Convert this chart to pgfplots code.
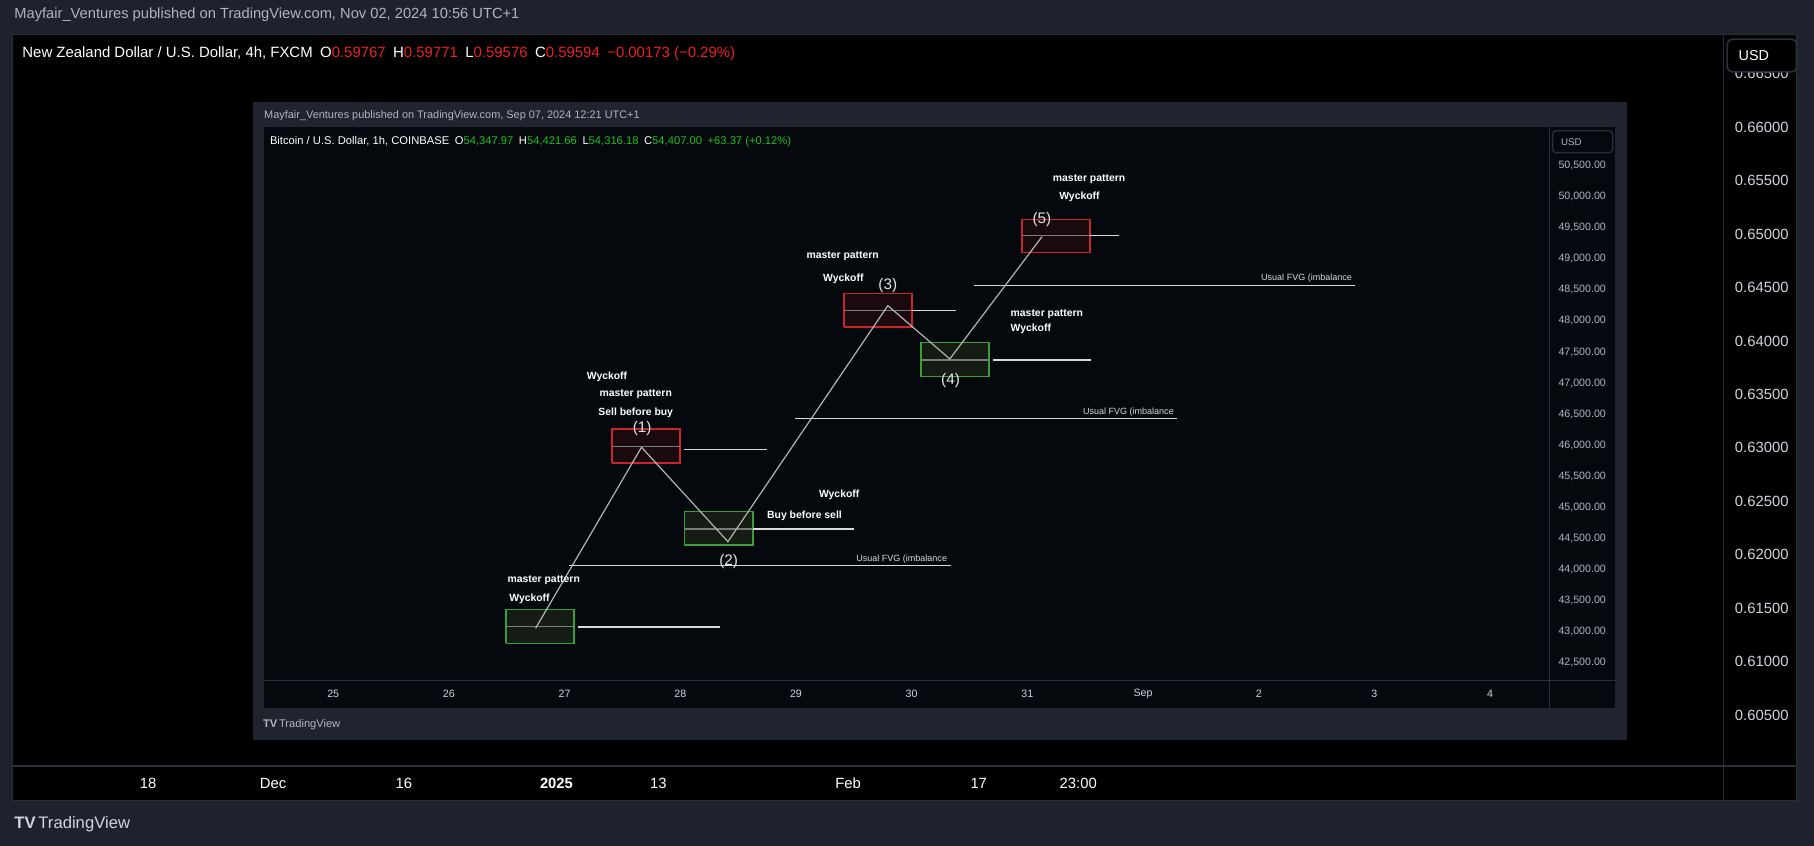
\documentclass[border=0pt]{standalone}
\usepackage{pgfplots}
\pgfplotsset{compat=1.18}
\usepackage{fontspec}
\setmainfont{Liberation Sans}
\definecolor{pagebg}{HTML}{1E222D}
\definecolor{framebg}{HTML}{20242F}
\definecolor{sep}{HTML}{2A2E39}
\definecolor{innerbg}{HTML}{05080C}
\definecolor{txt}{HTML}{D1D4DC}
\definecolor{txtgrey}{HTML}{B2B5BE}
\definecolor{tvred}{HTML}{EC2020}
\definecolor{tvgreen}{HTML}{1EC01E}
\definecolor{boxred}{HTML}{C8262E}
\definecolor{boxredfill}{HTML}{1A0A0E}
\definecolor{boxgreen}{HTML}{3A9E3A}
\definecolor{boxgreenfill}{HTML}{141C14}
\definecolor{zig}{HTML}{B8B8B8}
\definecolor{hline}{HTML}{DADADA}
\definecolor{midl}{HTML}{7C7C7C}
\newcommand\fs[1]{\fontsize{#1}{#1}\selectfont}
\tikzset{
  lab/.style={text=white,font=\fs{4.5}\bfseries,inner sep=0},
  num/.style={text=white!90!black,font=\fs{6.6},inner sep=0},
  fvg/.style={text=white!85!black,font=\fs{3.9},inner sep=0,anchor=south east},
}
\begin{document}
\begin{tikzpicture}[x=0.5pt,y=0.5pt]
% page background
\fill[pagebg] (0,0) rectangle (1568,731);
% outer panel
\fill[black] (11,39) rectangle (1553,701);
\draw[sep,line width=0.6pt] (11,39) rectangle (1553,701);
\draw[sep,line width=0.6pt] (1490,39) -- (1490,701);
\draw[sep,line width=0.6pt] (11,69) -- (1553,69);
% top header
\node[anchor=west,inner sep=0,text=txtgrey,font=\fs{6.35}] at (12,718) {Mayfair\_Ventures published on TradingView.com, Nov 02, 2024 10:56 UTC+1};
\node[anchor=west,inner sep=0,text=white,font=\fs{6.45}] at (19,685) {New Zealand Dollar / U.S. Dollar, 4h, FXCM\enspace O{\color{tvred}0.59767}\enspace H{\color{tvred}0.59771}\enspace L{\color{tvred}0.59576}\enspace C{\color{tvred}0.59594}\enspace{\color{tvred}−0.00173 (−0.29\%)}};
% outer axis
\begin{axis}[at={(5.5pt,34.5pt)}, anchor=south west, width=739.5pt, height=316pt, scale only axis,
  xmin=11, xmax=1490, ymin=0.600236, ymax=0.668662,
  axis line style={draw=none}, major tick length=0pt,
  xtick={128,236,349,481,569,733,846,932},
  xticklabels={18,Dec,16,\textbf{2025},13,Feb,17,23:00},
  xticklabel style={anchor=center, yshift=-7.5pt, font=\fs{6.4}, text=white},
  ytick={0.605,0.610,0.615,0.620,0.625,0.630,0.635,0.640,0.645,0.650,0.655,0.660,0.665},
  yticklabel pos=right, scaled y ticks=false,
  yticklabel style={anchor=center, xshift=16.4pt, font=\fs{6.4}, text=txt},
  /pgf/number format/fixed, /pgf/number format/fixed zerofill, /pgf/number format/precision=5, /pgf/number format/assume math mode=true,
]
\end{axis}
% outer USD button
\filldraw[fill=black,draw=sep,line width=0.8pt,rounded corners=2pt] (1493,669) rectangle (1553,697);
\node[text=white,font=\fs{6.2}] at (1516,683) {USD};
% outer logo
\node[anchor=west,inner sep=0,text=txt,font=\fs{7.2}] at (12,19) {\textbf{TV}\,TradingView};
% inner screenshot frame
\fill[framebg] (219,91) rectangle (1406,643);
\fill[innerbg] (228,119) rectangle (1396,621);
\draw[sep,line width=0.5pt] (1339,119) -- (1339,621);
\draw[sep,line width=0.5pt] (228,143) -- (1396,143);
\node[anchor=west,inner sep=0,text=txtgrey,font=\fs{4.72}] at (228,631) {Mayfair\_Ventures published on TradingView.com, Sep 07, 2024 12:21 UTC+1};
\node[anchor=west,inner sep=0,text=white,font=\fs{4.84}] at (233,609) {Bitcoin / U.S. Dollar, 1h, COINBASE\enspace O{\color{tvgreen}54,347.97}\enspace H{\color{tvgreen}54,421.66}\enspace L{\color{tvgreen}54,316.18}\enspace C{\color{tvgreen}54,407.00}\enspace{\color{tvgreen}+63.37 (+0.12\%)}};
\node[anchor=west,inner sep=0,text=txtgrey,font=\fs{4.8}] at (227,105) {\textbf{TV}\,TradingView};
% inner axis
\begin{axis}[at={(114pt,71.5pt)}, anchor=south west, width=555.5pt, height=239pt, scale only axis,
  xmin=24.40, xmax=35.51, ymin=42221, ymax=51114, clip=false,
  axis line style={draw=none}, major tick length=0pt,
  xtick={25,26,27,28,29,30,31,32,33,34,35},
  xticklabels={25,26,27,28,29,30,31,Sep,2,3,4},
  xticklabel style={anchor=center, yshift=-6pt, font=\fs{4.6}, text=txt},
  ytick={42500,43000,...,50500},
  yticklabel pos=right, scaled y ticks=false,
  yticklabel style={anchor=center, xshift=14.3pt, font=\fs{4.6}, text=txtgrey},
  /pgf/number format/fixed, /pgf/number format/fixed zerofill, /pgf/number format/precision=2, /pgf/number format/1000 sep={,}, /pgf/number format/assume math mode=true,
]
% boxes
\addplot[draw=boxgreen, fill=boxgreenfill, line width=0.7pt] coordinates {(26.492,42814) (27.082,42814) (27.082,43361) (26.492,43361) (26.492,42814)};
\addplot[draw=boxred, fill=boxredfill, line width=0.7pt] coordinates {(27.41,45711) (28.00,45711) (28.00,46262) (27.41,46262) (27.41,45711)};
\addplot[draw=boxgreen, fill=boxgreenfill, line width=0.7pt] coordinates {(28.035,44392) (28.629,44392) (28.629,44932) (28.035,44932) (28.035,44392)};
\addplot[draw=boxred, fill=boxredfill, line width=0.7pt] coordinates {(29.414,47897) (30.003,47897) (30.003,48439) (29.414,48439) (29.414,47897)};
\addplot[draw=boxgreen, fill=boxgreenfill, line width=0.7pt] coordinates {(30.082,47103) (30.668,47103) (30.668,47650) (30.082,47650) (30.082,47103)};
\addplot[draw=boxred, fill=boxredfill, line width=0.7pt] coordinates {(30.956,49097) (31.544,49097) (31.544,49633) (30.956,49633) (30.956,49097)};
% box midlines
\addplot[midl, line width=0.5pt] coordinates {(26.492,43082) (27.082,43082)};
\addplot[midl, line width=0.5pt] coordinates {(27.41,45983) (28.00,45983)};
\addplot[midl, line width=0.5pt] coordinates {(28.035,44654) (28.629,44654)};
\addplot[midl, line width=0.5pt] coordinates {(29.414,48165) (30.003,48165)};
\addplot[midl, line width=0.5pt] coordinates {(30.082,47371) (30.668,47371)};
\addplot[midl, line width=0.5pt] coordinates {(30.956,49371) (31.544,49371)};
% right horizontal lines
\addplot[hline, line width=0.7pt] coordinates {(27.12,43082) (28.34,43082)};
\addplot[hline, line width=0.7pt] coordinates {(28.03,45930) (28.75,45930)};
\addplot[hline, line width=0.7pt] coordinates {(28.63,44649) (29.50,44649)};
\addplot[hline, line width=0.7pt] coordinates {(30.003,48165) (30.38,48165)};
\addplot[hline, line width=0.7pt] coordinates {(30.704,47374) (31.548,47374)};
\addplot[hline, line width=0.7pt] coordinates {(31.544,49371) (31.796,49371)};
% FVG lines
\addplot[hline, line width=0.6pt] coordinates {(27.04,44065) (30.34,44065)};
\addplot[hline, line width=0.6pt] coordinates {(28.99,46426) (32.29,46426)};
\addplot[hline, line width=0.6pt] coordinates {(30.539,48570) (33.836,48570)};
% zigzag
\addplot[zig, line width=0.5pt] coordinates {(26.75,43058) (27.665,45968) (28.412,44450) (29.794,48245) (30.33,47388) (31.127,49354)};
% labels
\node[fvg] at (axis cs:30.31,44100) {Usual FVG (imbalance};
\node[fvg] at (axis cs:32.27,46460) {Usual FVG (imbalance};
\node[fvg] at (axis cs:33.81,48605) {Usual FVG (imbalance};
\node[lab] at (axis cs:27.367,47103) {Wyckoff};
\node[lab] at (axis cs:27.615,46824) {master pattern};
\node[lab] at (axis cs:27.615,46519) {Sell before buy};
\node[num] at (axis cs:27.67,46262) {(1)};
\node[num] at (axis cs:28.418,44128) {(2)};
\node[lab] at (axis cs:29.374,45201) {Wyckoff};
\node[lab] at (axis cs:29.074,44863) {Buy before sell};
\node[lab] at (axis cs:26.82,43828) {master pattern};
\node[lab] at (axis cs:26.697,43523) {Wyckoff};
\node[lab] at (axis cs:29.404,49040) {master pattern};
\node[lab] at (axis cs:29.41,48684) {Wyckoff};
\node[num] at (axis cs:29.794,48561) {(3)};
\node[num] at (axis cs:30.336,47034) {(4)};
\node[lab,anchor=west] at (axis cs:30.852,48100) {master pattern};
\node[lab,anchor=west] at (axis cs:30.852,47866) {Wyckoff};
\node[lab] at (axis cs:31.534,50282) {master pattern};
\node[lab] at (axis cs:31.451,49998) {Wyckoff};
\node[num] at (axis cs:31.126,49633) {(5)};
\end{axis}
% inner USD button
\filldraw[fill=innerbg,draw=sep,line width=0.6pt,rounded corners=1.5pt] (1342,599) rectangle (1394,618);
\node[anchor=west,inner sep=0,text=txtgrey,font=\fs{4.2}] at (1349,608.5) {USD};
\end{tikzpicture}
\end{document}
